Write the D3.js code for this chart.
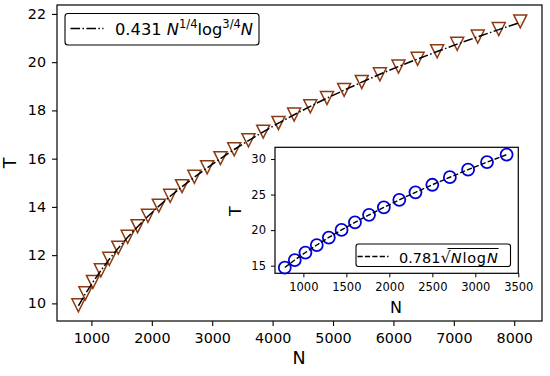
<!DOCTYPE html>
<html><head><meta charset="utf-8">
<script src="https://cdn.jsdelivr.net/npm/d3@7"></script>
<style>
html,body{margin:0;padding:0;background:#fff;}
text{font-family:"DejaVu Sans",sans-serif;fill:#000;}
</style></head>
<body><svg id="c" width="550" height="376"></svg>
<script>
// ---- data ----
const mainN = [784,900,1024,1156,1296,1444,1600,1764,1936,2116,2304,2500,2704,2916,3136,3364,3600,3844,4096,4356,4624,4900,5184,5476,5776,6084,6400,6724,7056,7396,7744,8100];
const mainT = [9.92,10.42,10.89,11.37,11.85,12.31,12.76,13.20,13.63,14.05,14.46,14.86,15.25,15.64,16.02,16.39,16.76,17.12,17.48,17.83,18.17,18.51,18.85,19.18,19.50,19.82,20.14,20.45,20.76,21.06,21.37,21.69];
const mainFitT = [9.90,10.40,10.88,11.36,11.83,12.29,12.74,13.18,13.61,14.03,14.44,14.84,15.23,15.62,16.00,16.38,16.75,17.11,17.47,17.82,18.17,18.51,18.84,19.17,19.50,19.82,20.13,20.44,20.75,21.05,21.35,21.65];
const insetN = [784,900,1024,1156,1296,1444,1600,1764,1936,2116,2304,2500,2704,2916,3136,3364];
const insetT = [14.72,15.79,16.85,17.90,18.96,20.03,21.09,22.15,23.21,24.26,25.32,26.38,27.45,28.51,29.57,30.63];
const insetFitT = [14.75,15.80,16.86,17.91,18.97,20.03,21.09,22.14,23.20,24.26,25.32,26.38,27.44,28.50,29.56,30.62];
const mainXTicks = [1000,2000,3000,4000,5000,6000,7000,8000];
const mainYTicks = [10,12,14,16,18,20,22];
const insetXTicks = [1000,1500,2000,2500,3000,3500];
const insetYTicks = [15,20,25,30];

const svg = d3.select("#c");

// ---- main axes ----
const M = {l:57, r:542, t:5, b:321};
const x = d3.scaleLinear().domain([430,8460]).range([M.l,M.r]);
const y = d3.scaleLinear().domain([9.27,22.37]).range([M.b,M.t]);

const gx = svg.append("g").attr("transform",`translate(0,${M.b})`)
  .call(d3.axisBottom(x).tickValues(mainXTicks).tickSize(5).tickPadding(7).tickFormat(d3.format("d")));
const gy = svg.append("g").attr("transform",`translate(${M.l},0)`)
  .call(d3.axisLeft(y).tickValues(mainYTicks).tickSize(5).tickPadding(6).tickFormat(d3.format("d")));
[gx,gy].forEach(g=>{
  g.select(".domain").remove();
  g.selectAll("line").attr("stroke","#000").attr("stroke-width",1.1);
  g.selectAll("text").attr("font-size",14.3).attr("font-family","DejaVu Sans");
});
svg.append("rect").attr("x",M.l).attr("y",M.t).attr("width",M.r-M.l).attr("height",M.b-M.t)
  .attr("fill","none").attr("stroke","#000").attr("stroke-width",1.2);

// fit line
const lineMain = d3.line().x((d,i)=>x(mainN[i])).y(d=>y(d));
// markers
const tri = r => `M${-r},${-r}L${r},${-r}L0,${r}Z`;
svg.append("g").selectAll("path").data(mainT).join("path")
  .attr("transform",(d,i)=>`translate(${x(mainN[i])},${y(d)})`)
  .attr("d",tri(6.5)).attr("fill","none").attr("stroke","#8b3a12").attr("stroke-width",1.5);
svg.append("path").attr("d",lineMain(mainFitT)).attr("fill","none").attr("stroke","#000")
  .attr("stroke-width",1.5).attr("stroke-dasharray","9.6,2.4,1.5,2.4");

// axis labels
svg.append("text").attr("x",299).attr("y",364).attr("text-anchor","middle").attr("font-size",17.5).text("N");
svg.append("text").attr("transform","translate(16,163) rotate(-90)").attr("text-anchor","middle").attr("font-size",17.5).text("T");

// main legend
const lg = svg.append("g");
lg.append("rect").attr("x",65).attr("y",13.5).attr("width",194).attr("height",31.5).attr("rx",3)
  .attr("fill","#fff").attr("stroke","#000").attr("stroke-width",1.1);
lg.append("line").attr("x1",70.5).attr("x2",103.5).attr("y1",28.5).attr("y2",28.5)
  .attr("stroke","#000").attr("stroke-width",1.5).attr("stroke-dasharray","9.6,2.4,1.5,2.4");
const lt = lg.append("text").attr("x",115).attr("y",35).attr("font-size",16.3);
lt.append("tspan").text("0.431 ");
lt.append("tspan").attr("font-style","italic").text("N");
lt.append("tspan").attr("font-size",11.5).attr("dy",-7).text("1/4");
lt.append("tspan").attr("dy",7).text("log");
lt.append("tspan").attr("font-size",11.5).attr("dy",-7).text("3/4");
lt.append("tspan").attr("dy",7).attr("font-style","italic").text("N");

// ---- inset ----
const I = {l:275, r:518.3, t:147.3, b:273.3};
const xi = d3.scaleLinear().domain([670,3500]).range([I.l,I.r]);
const yi = d3.scaleLinear().domain([13.93,31.65]).range([I.b,I.t]);
svg.append("rect").attr("x",I.l).attr("y",I.t).attr("width",I.r-I.l).attr("height",I.b-I.t).attr("fill","#fff");
const gxi = svg.append("g").attr("transform",`translate(0,${I.b})`)
  .call(d3.axisBottom(xi).tickValues(insetXTicks).tickSize(4).tickPadding(6).tickFormat(d3.format("d")));
const gyi = svg.append("g").attr("transform",`translate(${I.l},0)`)
  .call(d3.axisLeft(yi).tickValues(insetYTicks).tickSize(4).tickPadding(5).tickFormat(d3.format("d")));
[gxi,gyi].forEach(g=>{
  g.select(".domain").remove();
  g.selectAll("line").attr("stroke","#000").attr("stroke-width",1);
  g.selectAll("text").attr("font-size",11.5).attr("font-family","DejaVu Sans");
});
svg.append("rect").attr("x",I.l).attr("y",I.t).attr("width",I.r-I.l).attr("height",I.b-I.t)
  .attr("fill","none").attr("stroke","#000").attr("stroke-width",1.2);
svg.append("g").selectAll("circle").data(insetT).join("circle")
  .attr("cx",(d,i)=>xi(insetN[i])).attr("cy",d=>yi(d)).attr("r",6)
  .attr("fill","none").attr("stroke","#0000dd").attr("stroke-width",1.8);
const lineIn = d3.line().x((d,i)=>xi(insetN[i])).y(d=>yi(d));
svg.append("path").attr("d",lineIn(insetFitT)).attr("fill","none").attr("stroke","#000")
  .attr("stroke-width",1.4).attr("stroke-dasharray","5.2,2.2");
svg.append("text").attr("x",396).attr("y",313).attr("text-anchor","middle").attr("font-size",16).text("N");
svg.append("text").attr("transform","translate(241,211) rotate(-90)").attr("text-anchor","middle").attr("font-size",16).text("T");

// inset legend
const il = svg.append("g");
il.append("rect").attr("x",356).attr("y",244).attr("width",154.5).attr("height",22.5).attr("rx",2.5)
  .attr("fill","#fff").attr("stroke","#000").attr("stroke-width",1.1);
il.append("line").attr("x1",357.5).attr("x2",388.5).attr("y1",256.5).attr("y2",256.5)
  .attr("stroke","#000").attr("stroke-width",1.4).attr("stroke-dasharray","5.2,2.2");
const it = il.append("text").attr("x",399).attr("y",262.5).attr("font-size",14.5);
it.append("tspan").text("0.781");
it.append("tspan").attr("font-size",16).text("\u221A");
const rad = it.append("tspan").attr("letter-spacing",0.8);
rad.append("tspan").attr("font-style","italic").text("N");
rad.append("tspan").text("log");
rad.append("tspan").attr("font-style","italic").text("N");
// overline over radicand
const tnode = it.node();
const n = tnode.getNumberOfChars();
const e = tnode.getEndPositionOfChar(n-1);
const sq = tnode.getStartPositionOfChar(5);
il.append("line").attr("x1",sq.x+7).attr("x2",e.x).attr("y1",248.5).attr("y2",248.5)
  .attr("stroke","#000").attr("stroke-width",1);
</script></body></html>
